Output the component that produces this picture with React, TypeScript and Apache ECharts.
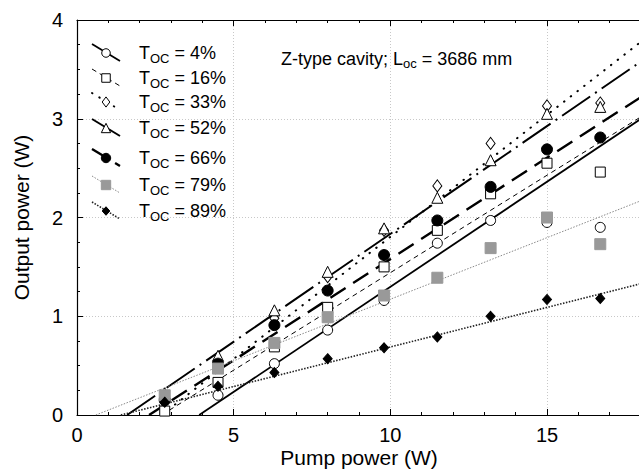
import React, { useEffect, useRef } from "react";
import * as echarts from "echarts";

// Pump power (W) at which output was measured
const pumpPower = [2.8, 4.5, 6.3, 8.0, 9.8, 11.5, 13.2, 15.0, 16.7];
// Output power (W) for each output-coupler transmission
const out4 = [null, 0.2, 0.52, 0.86, 1.16, 1.74, 1.97, 1.95, 1.9];
const out16 = [0.04, 0.33, 0.69, 1.09, 1.5, 1.87, 2.24, 2.55, 2.46];
const out33 = [0.18, 0.5, 0.98, 1.4, 1.87, 2.32, 2.75, 3.13, 3.16];
const out52 = [0.22, 0.6, 1.06, 1.45, 1.89, 2.2, 2.58, 3.05, 3.12];
const out66 = [0.15, 0.52, 0.91, 1.26, 1.62, 1.97, 2.31, 2.69, 2.81];
const out79 = [0.2, 0.47, 0.73, 0.99, 1.21, 1.39, 1.69, 2.0, 1.73];
const out89 = [0.13, 0.29, 0.43, 0.57, 0.68, 0.79, 1.0, 1.17, 1.18];
// Linear fits: threshold pump power (W) and output at pump = 18 W
const fitThreshold = [3.9, 2.7, 2.7, 1.6, 2.3, 0.6, 1.4];
const fitAt18 = [3.0, 3.02, 3.78, 3.58, 3.22, 2.17, 1.33];
const fitEndX = 18;
const labels = ["4%", "16%", "33%", "52%", "66%", "79%", "89%"];
const xTicks = [0, 5, 10, 15];
const yTicks = [0, 1, 2, 3, 4];

const FONT = "Liberation Sans, Arial, Helvetica, sans-serif";

type Sty = {
  symbol: string;
  size: number | number[];
  fill: string;
  stroke: string;
  dash: number[] | "solid";
  width: number;
  lineColor: string;
  cap: string;
};

const styles: Sty[] = [
  { symbol: "circle", size: 10, fill: "#fff", stroke: "#000", dash: "solid", width: 1.8, lineColor: "#000", cap: "butt" },
  { symbol: "rect", size: 10, fill: "#fff", stroke: "#000", dash: [5, 4], width: 1, lineColor: "#000", cap: "butt" },
  { symbol: "diamond", size: [9, 12], fill: "#fff", stroke: "#000", dash: [0.5, 8], width: 2, lineColor: "#000", cap: "round" },
  { symbol: "triangle", size: 11, fill: "#fff", stroke: "#000", dash: [34, 6, 2, 6], width: 2, lineColor: "#000", cap: "butt" },
  { symbol: "circle", size: 11, fill: "#000", stroke: "#000", dash: [18, 9], width: 2.4, lineColor: "#000", cap: "butt" },
  { symbol: "rect", size: 11, fill: "#999", stroke: "#999", dash: [1.5, 1.5], width: 1, lineColor: "#888", cap: "butt" },
  { symbol: "diamond", size: [9, 10], fill: "#000", stroke: "#000", dash: [1.5, 1.5], width: 1.6, lineColor: "#222", cap: "butt" },
];

const allOut = [out4, out16, out33, out52, out66, out79, out89];

function legendMarker(s: Sty, cx: number, cy: number) {
  const style = { fill: s.fill, stroke: s.stroke, lineWidth: 1 };
  const k = 0.85;
  const w = (Array.isArray(s.size) ? s.size[0] : s.size) * k;
  const h = (Array.isArray(s.size) ? s.size[1] : s.size) * k;
  if (s.symbol === "circle") return { type: "circle", shape: { cx, cy, r: w / 2 }, style };
  if (s.symbol === "rect") return { type: "rect", shape: { x: cx - w / 2, y: cy - h / 2, width: w, height: h }, style };
  if (s.symbol === "diamond")
    return { type: "polygon", shape: { points: [[cx, cy - h / 2], [cx + w / 2, cy], [cx, cy + h / 2], [cx - w / 2, cy]] }, style };
  return { type: "polygon", shape: { points: [[cx, cy - h / 2], [cx + w / 2, cy + h / 2], [cx - w / 2, cy + h / 2]] }, style };
}

export default function App() {
  const ref = useRef<HTMLDivElement>(null);
  useEffect(() => {
    if (!ref.current) return;
    const chart = echarts.init(ref.current, null, { renderer: "svg" });

    const series: any[] = [];
    styles.forEach((s, i) => {
      series.push({
        type: "line",
        data: [[fitThreshold[i], 0], [fitEndX, fitAt18[i]]],
        showSymbol: false,
        symbol: "none",
        lineStyle: { color: s.lineColor, width: s.width, type: s.dash, cap: s.cap },
        silent: true,
        z: 2,
      });
    });
    styles.forEach((s, i) => {
      series.push({
        type: "scatter",
        data: pumpPower.map((x, k) => [x, allOut[i][k]]).filter((d) => d[1] !== null),
        symbol: s.symbol,
        symbolSize: s.size,
        itemStyle: { color: s.fill, borderColor: s.stroke, borderWidth: 1, opacity: 1 },
        z: 3,
      });
    });

    const rowsY = [53, 78, 102, 128, 158, 185, 211];
    const legendEls: any[] = [];
    styles.forEach((s, i) => {
      const y = rowsY[i];
      legendEls.push({
        type: "line",
        shape: { x1: 92, y1: y - 9, x2: 120, y2: y + 8 },
        style: { stroke: s.lineColor, lineWidth: s.width, lineDash: s.dash === "solid" ? null : s.dash, lineCap: s.cap },
        z: 10,
      });
      legendEls.push({ ...legendMarker(s, 106, y), z: 11 });
      legendEls.push({
        type: "text",
        x: 139,
        y: y,
        style: {
          text: `{t|T}{s|OC}{t| = ${labels[i]}}`,
          verticalAlign: "middle",
          rich: {
            t: { fontSize: 18, fontFamily: FONT, fill: "#000" },
            s: { fontSize: 13, fontFamily: FONT, fill: "#000", padding: [10, 0, 0, 0] },
          },
        },
        z: 11,
      });
    });
    legendEls.push({
      type: "text",
      x: 281,
      y: 59,
      style: {
        text: "{a|Z-type cavity; L}{s|oc}{a| = 3686 mm}",
        verticalAlign: "middle",
        rich: {
          a: { fontSize: 18, fontFamily: FONT, fill: "#000" },
          s: { fontSize: 13, fontFamily: FONT, fill: "#000", padding: [9, 0, 0, 0] },
        },
      },
      z: 11,
    });

    const axisCommon = {
      axisLine: { show: true, lineStyle: { color: "#000", width: 1.2 } },
      axisTick: { show: true, inside: true, length: 6, lineStyle: { color: "#000" } },
      minorTick: { show: true, length: 3, lineStyle: { color: "#000" } },
    };

    chart.setOption({
      animation: false,
      backgroundColor: "#fff",
      grid: { left: 77, right: -2, top: 20, bottom: 56, containLabel: false, outerBoundsMode: "none" },
      xAxis: [
        {
          type: "value",
          min: xTicks[0],
          max: 18,
          interval: 5,
          name: "Pump power (W)",
          nameLocation: "middle",
          nameGap: 32,
          nameMoveOverlap: false,
          nameTextStyle: { fontSize: 21, fontFamily: FONT, color: "#000" },
          ...axisCommon,
          minorTick: { ...axisCommon.minorTick, splitNumber: 5 },
          axisLabel: { fontSize: 20, fontFamily: FONT, color: "#000", margin: 10, showMaxLabel: false },
          splitLine: { show: true, lineStyle: { color: "#c8c8c8", type: [1, 2], width: 1 } },
        },
        {
          type: "value",
          position: "top",
          min: xTicks[0],
          max: 18,
          interval: 5,
          ...axisCommon,
          minorTick: { ...axisCommon.minorTick, splitNumber: 5 },
          axisLabel: { show: false },
          splitLine: { show: false },
        },
      ],
      yAxis: [
        {
          type: "value",
          min: yTicks[0],
          max: yTicks[yTicks.length - 1],
          interval: 1,
          name: "Output power (W)",
          nameLocation: "middle",
          nameGap: 45,
          nameMoveOverlap: false,
          nameTextStyle: { fontSize: 21, fontFamily: FONT, color: "#000" },
          ...axisCommon,
          minorTick: { ...axisCommon.minorTick, splitNumber: 4 },
          axisLabel: { fontSize: 20, fontFamily: FONT, color: "#000", margin: 14 },
          splitLine: { show: true, lineStyle: { color: "#c8c8c8", type: [1, 2], width: 1 } },
        },
      ],
      graphic: legendEls,
      series,
    });
    return () => chart.dispose();
  }, []);
  return (
    <div
      ref={ref}
      style={{ position: "fixed", left: 0, top: 0, width: 639, height: 471, background: "#fff" }}
    />
  );
}
